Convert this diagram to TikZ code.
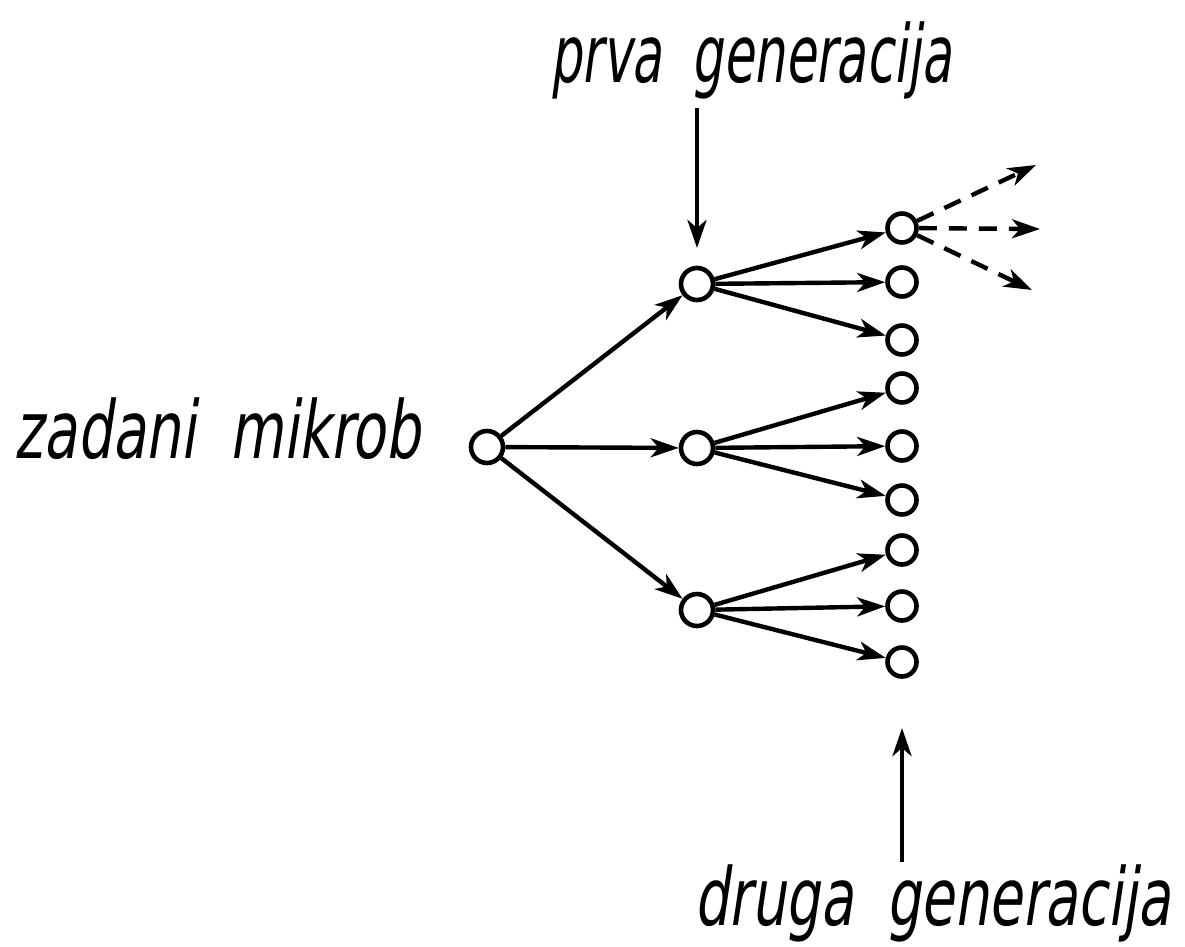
\documentclass[tikz,border=0pt]{standalone}
\usepackage{fontspec}
\usetikzlibrary{arrows.meta}
\newfontfamily\hand[FakeSlant=0.22]{DejaVu Sans}
\newcommand{\wgap}{\hspace{48pt}}
\begin{document}
\begin{tikzpicture}[x=1pt,y=-1pt,
  cell/.style={circle,draw,line width=4.6pt,minimum size=29pt,inner sep=0pt},
  cellb/.style={cell,minimum size=32pt},
  arr/.style={line width=4.4pt,-{Stealth[length=28pt,width=19pt,inset=8pt]}},
  darr/.style={line width=4.4pt,dash pattern=on 18pt off 12pt,-{Stealth[length=28pt,width=19pt,inset=8pt]}},
  lab/.style={font=\hand\fontsize{80}{90}\selectfont,inner sep=0pt,anchor=base west}]
\useasboundingbox (0,0) rectangle (1185,946);
\node[cellb] (r) at (487,447) {};
\node[cellb] (a) at (697,284) {};
\node[cellb] (b) at (697,448) {};
\node[cellb] (c) at (697,610) {};
\foreach \n/\y in {1/228,2/282,3/340,4/388,5/446,6/500,7/550,8/606,9/662}
  \node[cell] (s\n) at (902,\y) {};
\draw[arr] (r) -- (a);
\draw[arr] (r) -- (b);
\draw[arr] (r) -- (c);
\draw[arr] (a) -- (s1); \draw[arr] (a) -- (s2); \draw[arr] (a) -- (s3);
\draw[arr] (b) -- (s4); \draw[arr] (b) -- (s5); \draw[arr] (b) -- (s6);
\draw[arr] (c) -- (s7); \draw[arr] (c) -- (s8); \draw[arr] (c) -- (s9);
\coordinate (d1) at (1036,165);
\coordinate (d2) at (1040,229);
\coordinate (d3) at (1032,290);
\draw[darr] (s1) -- (d1);
\draw[darr] (s1) -- (d2);
\draw[darr] (s1) -- (d3);
\node[lab] (t1) at (550,82) {\scalebox{0.62}[1]{prva\wgap generacija}};
\node[lab] (t2) at (14,458) {\scalebox{0.69}[1]{zadani\wgap mikrob}};
\node[lab] (t3) at (694,925) {\scalebox{0.68}[1]{druga\wgap generacija}};
\coordinate (p1) at (697,108);
\coordinate (q1) at (697,248);
\coordinate (p2) at (902,862);
\coordinate (q2) at (902,728);
\draw[arr] (p1) -- (q1);
\draw[arr] (p2) -- (q2);
\end{tikzpicture}
\end{document}
